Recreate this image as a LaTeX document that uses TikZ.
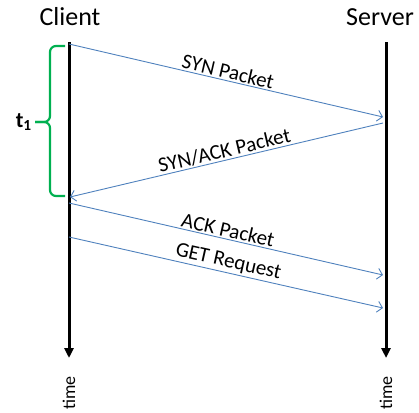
\documentclass[tikz,border=0pt]{standalone}
\usepackage{fontspec}
\setmainfont{Carlito}
\usetikzlibrary{arrows.meta, positioning}
\definecolor{msgblue}{RGB}{79,129,189}
\definecolor{bracegreen}{RGB}{0,176,80}
\tikzset{
    lifeline/.style={line width=3pt, -{Triangle[length=10pt, width=9pt]}},
    msg/.style={msgblue, line width=0.9pt, -{Straight Barb[length=5pt, width=11pt]}},
    msglabel/.style={text=black, font=\fontsize{21}{24}\selectfont, sloped, above, inner sep=1.5pt},
    party/.style={font=\fontsize{26}{30}\selectfont},
    timelabel/.style={font=\fontsize{18}{20}\selectfont, rotate=90},
    tbrace/.style={bracegreen, line width=2.2pt, rounded corners=6pt},
}

\begin{document}
\begin{tikzpicture}[x=1pt, y=-1pt]
                \useasboundingbox (0,0) rectangle (419,412);

                \node[party] (client) at (70,17) {Client};
                \node[party] (server) at (380,17) {Server};

                % lifelines
                \coordinate (ctop) at (69,42);
                \coordinate (cbot) at (69,358);
                \coordinate (stop) at (386,42);
                \coordinate (sbot) at (386,358);
                \draw[lifeline] (ctop) -- (cbot);
                \draw[lifeline] (stop) -- (sbot);
                \node[timelabel] (ctime) at (69,393) {time};
                \node[timelabel] (stime) at (386,393) {time};

                % message end points
                \coordinate (c0) at (69,44);
                \coordinate (c1) at (70,197);
                \coordinate (c2) at (69,203);
                \coordinate (c3) at (69,237);
                \coordinate (s0) at (383,117);
                \coordinate (s1) at (383,123);
                \coordinate (s2) at (383,275);
                \coordinate (s3) at (383,308);

                \draw[msg] (c0) -- node[msglabel]{SYN Packet} (s0);
                \draw[msg] (s1) -- node[msglabel]{SYN/ACK Packet} (c1);
                \draw[msg] (c2) -- node[msglabel]{ACK Packet} (s2);
                \draw[msg] (c3) -- node[msglabel]{GET Request} (s3);

                % brace for t1
                \coordinate (b0) at (65,46);
                \coordinate (b1) at (65,196);
                \coordinate (bt) at (35,122);
                \draw[tbrace] (b0) -- (50,46) -- (50,122) -- (bt);
                \draw[tbrace] (b1) -- (50,196) -- (50,122) -- (bt);
                \node[font=\fontsize{22}{24}\selectfont\bfseries, anchor=east, inner sep=3pt] (t1) at (bt) {t\textsubscript{1}};
            \end{tikzpicture}
\end{document}
